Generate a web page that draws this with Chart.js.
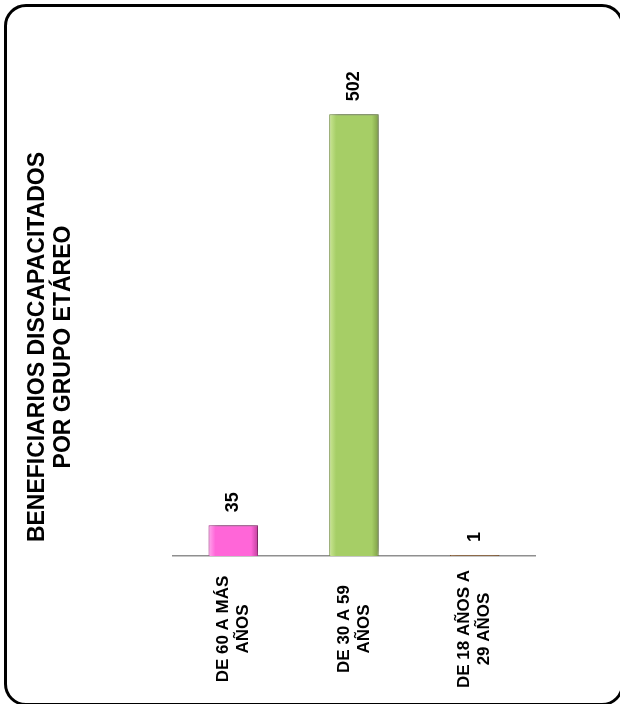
<!DOCTYPE html>
<html lang="es">
<head>
<meta charset="utf-8">
<title>Beneficiarios discapacitados por grupo etáreo</title>
<script src="https://cdn.jsdelivr.net/npm/chart.js@4/dist/chart.umd.min.js"></script>
<style>
  html, body { margin: 0; padding: 0; background: #fff; overflow: hidden; }
  #wrap { position: relative; width: 620px; height: 704px; }
  #frame {
    position: absolute; left: 4px; top: 4px; width: 620px; height: 702px;
    box-sizing: border-box; border: 3px solid #000; border-radius: 22px;
    pointer-events: none;
  }
  canvas { position: absolute; left: 0; top: 0; }
</style>
</head>
<body>
<div id="wrap">
  <canvas id="chart" width="620" height="704"></canvas>
  <div id="frame"></div>
</div>
<script>
  // datos
  const TITLE_LINES = ["BENEFICIARIOS DISCAPACITADOS", "POR GRUPO ETÁREO"];
  const CATEGORIES = [
    ["DE 60 A MÁS", "AÑOS"],
    ["DE 30 A 59", "AÑOS"],
    ["DE 18 AÑOS A", "29 AÑOS"],
  ];
  const VALUES = [35, 502, 1];
  const Y_MAX = 600;

  // estilos
  const FONT = "'Liberation Sans', Arial, sans-serif";
  const BAR_PCT = 0.41;
  const BAR_COLORS = ["#FF66D8", "#A6CE66", "#9A6A3C"];
  const BAR_LIGHTS = ["#FFA8EE", "#CCE797", "#B8885A"];
  const BAR_EDGES = ["#C2409E", "#7E9E46", "#7A4E26"];

  // degradado horizontal para simular el bisel de la barra
  function barFill(ctx) {
    const chart = ctx.chart;
    const i = ctx.dataIndex;
    const xs = chart.scales.x;
    if (!chart.chartArea || !xs || i === undefined) return BAR_COLORS[i || 0];
    const cx = xs.getPixelForValue(i);
    const half = (xs.width / CATEGORIES.length) * BAR_PCT / 2;
    const g = chart.ctx.createLinearGradient(cx - half, 0, cx + half, 0);
    g.addColorStop(0, BAR_LIGHTS[i]);
    g.addColorStop(0.14, BAR_COLORS[i]);
    g.addColorStop(0.86, BAR_COLORS[i]);
    g.addColorStop(1, BAR_EDGES[i]);
    return g;
  }

  const barShadow = {
    id: "barShadow",
    beforeDatasetsDraw(chart) {
      const c = chart.ctx;
      c.save();
      c.shadowColor = "rgba(0,0,0,0.5)";
      c.shadowBlur = 8;
      c.shadowOffsetX = 3;
      c.shadowOffsetY = -2;
    },
    afterDatasetsDraw(chart) {
      chart.ctx.restore();
    },
  };

  // etiquetas giradas: valores sobre las barras y categorías centradas
  const rotatedLabels = {
    id: "rotatedLabels",
    afterDraw(chart) {
      const c = chart.ctx;
      const xs = chart.scales.x;
      const ys = chart.scales.y;
      c.save();
      c.fillStyle = "#000";
      c.textBaseline = "middle";

      c.font = `bold 18px ${FONT}`;
      c.textAlign = "left";
      VALUES.forEach((v, i) => {
        c.save();
        c.translate(xs.getPixelForValue(i), ys.getPixelForValue(v) - 13);
        c.rotate(-Math.PI / 2);
        c.fillText(String(v), 0, 0);
        c.restore();
      });

      c.font = `bold 17px ${FONT}`;
      c.textAlign = "center";
      const lineH = 20;
      CATEGORIES.forEach((lines, i) => {
        c.save();
        c.translate(xs.getPixelForValue(i), xs.top + 73);
        c.rotate(-Math.PI / 2);
        lines.forEach((line, k) => {
          c.fillText(line, 0, (k - (lines.length - 1) / 2) * lineH);
        });
        c.restore();
      });
      c.restore();
    },
  };

  new Chart(document.getElementById("chart"), {
    type: "bar",
    data: {
      labels: CATEGORIES,
      datasets: [{
        data: VALUES,
        backgroundColor: barFill,
        borderColor: BAR_EDGES,
        borderWidth: 1,
        barPercentage: BAR_PCT,
        categoryPercentage: 1,
      }],
    },
    options: {
      responsive: false,
      animation: false,
      layout: { padding: { left: 24, right: 85, top: 28, bottom: 38 } },
      plugins: {
        legend: { display: false },
        tooltip: { enabled: false },
        title: {
          display: true,
          text: TITLE_LINES,
          position: "left",
          color: "#000",
          font: { family: FONT, size: 23, weight: "bold", lineHeight: 1.15 },
          padding: { top: 0, bottom: 96 },
        },
      },
      scales: {
        x: {
          grid: { display: false },
          border: { display: true, color: "#8f8f8f", width: 1.5 },
          ticks: { display: false },
          afterFit(scale) { scale.height = 110; },
        },
        y: { display: false, min: 0, max: Y_MAX },
      },
    },
    plugins: [barShadow, rotatedLabels],
  });
</script>
</body>
</html>
